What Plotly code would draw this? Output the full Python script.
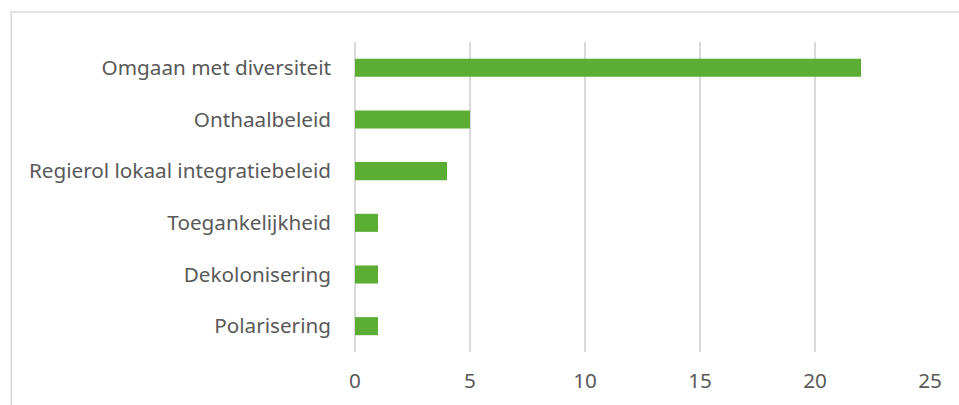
import plotly.graph_objects as go

# Thema's en aantallen (van boven naar beneden)
categories = [
    "Omgaan met diversiteit",
    "Onthaalbeleid",
    "Regierol lokaal integratiebeleid",
    "Toegankelijkheid",
    "Dekolonisering",
    "Polarisering",
]
counts = [22, 5, 4, 1, 1, 1]
x_ticks = [0, 5, 10, 15, 20, 25]

GREEN = "#5BAE33"
GRID = "#D9D9D9"
TEXT = "#595959"
FONT = "Noto Sans"
FONT_SIZE = 20.7

fig = go.Figure(
    go.Bar(
        x=counts,
        y=categories,
        orientation="h",
        marker=dict(color=GREEN, line=dict(width=0)),
        width=0.35,
        hoverinfo="x+y",
    )
)

fig.update_layout(
    width=959,
    height=405,
    margin=dict(l=355, r=29, t=42, b=53),
    paper_bgcolor="white",
    plot_bgcolor="white",
    showlegend=False,
    font=dict(family=FONT, size=FONT_SIZE, color=TEXT),
    bargap=0.65,
    shapes=[
        dict(
            type="rect",
            xref="paper",
            yref="paper",
            x0=-0.598,
            x1=1.2,
            y0=-0.4,
            y1=1.0968,
            line=dict(color=GRID, width=1.5),
            fillcolor="rgba(0,0,0,0)",
            layer="below",
        )
    ],
)

fig.update_xaxes(
    range=[0, 25],
    tickvals=x_ticks,
    ticktext=[str(v) for v in x_ticks],
    showgrid=True,
    gridcolor=GRID,
    gridwidth=1.5,
    zeroline=True,
    zerolinecolor=GRID,
    zerolinewidth=1.5,
    showline=False,
    ticks="",
    ticklabelstandoff=14,
    tickfont=dict(family=FONT, size=FONT_SIZE, color=TEXT),
    fixedrange=True,
)

fig.update_yaxes(
    categoryorder="array",
    categoryarray=categories[::-1],
    showgrid=False,
    zeroline=False,
    showline=False,
    ticks="",
    ticklabelstandoff=23,
    tickfont=dict(family=FONT, size=FONT_SIZE, color=TEXT),
    fixedrange=True,
)

fig.write_html("out.html", config={"displayModeBar": False})
